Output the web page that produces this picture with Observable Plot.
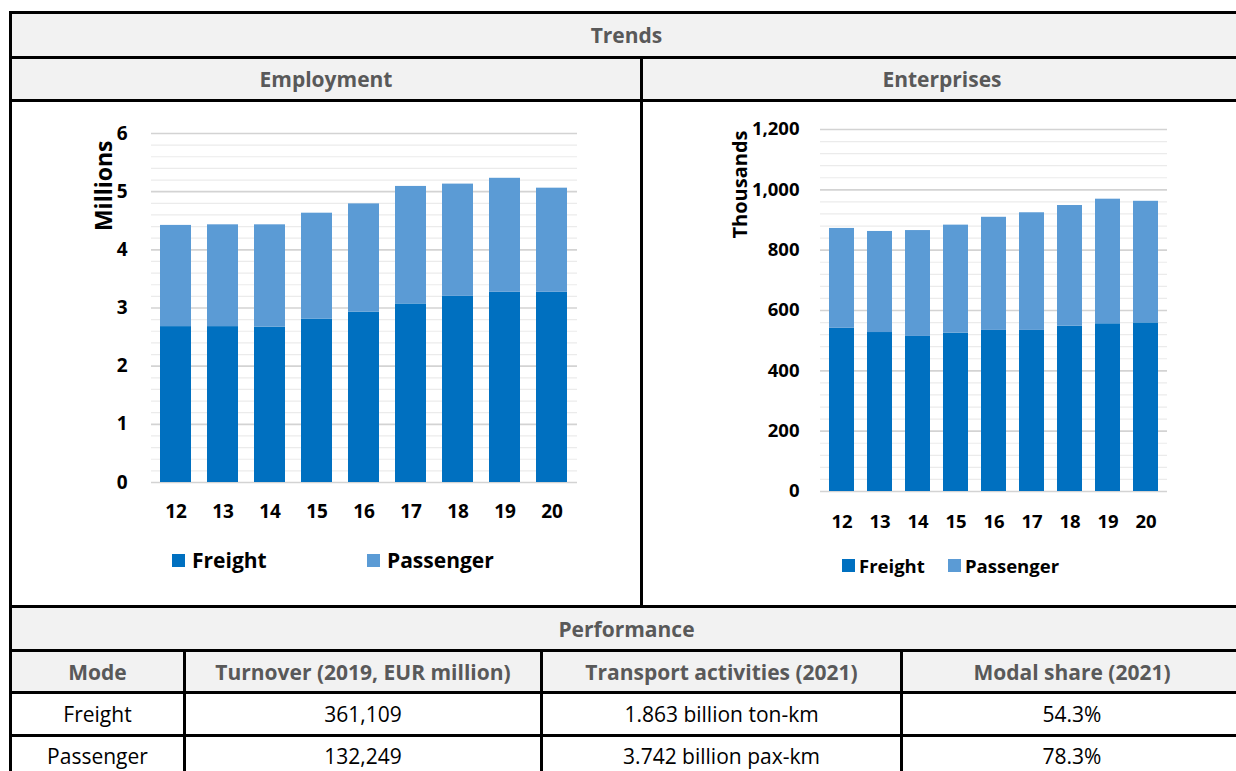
<!DOCTYPE html>
<html><head><meta charset="utf-8">
<script src="https://cdn.jsdelivr.net/npm/d3@7"></script>
<script src="https://cdn.jsdelivr.net/npm/@observablehq/plot@0.6"></script>
<style>
body{margin:0;background:#fff;font-family:"Open Sans",sans-serif;}
#page{position:relative;width:1236px;height:771px;overflow:hidden;background:#fff;}
.box{position:absolute;}
.cell{position:absolute;display:flex;align-items:center;justify-content:center;box-sizing:border-box;white-space:nowrap;}
.hdr{background:#f2f2f2;color:#595959;font-weight:700;font-size:21px;}
.dat{color:#000;font-size:21px;font-weight:400;}
.chart{position:absolute;}
.legend{position:absolute;display:flex;align-items:center;font-weight:700;color:#000;white-space:nowrap;}
.sw{display:inline-block;}
</style></head>
<body><div id="page"></div>
<script>
// ---------- data ----------
const years = ["12","13","14","15","16","17","18","19","20"];
const series = ["Freight","Passenger"];
const seriesColors = ["#0070c0","#5b9bd5"];
const employmentFreight   = [2.68,2.68,2.67,2.81,2.93,3.07,3.20,3.27,3.27];
const employmentPassenger = [1.74,1.75,1.76,1.82,1.86,2.02,1.93,1.96,1.79];
const enterprisesFreight   = [541,527,514,525,534,534,548,556,559];
const enterprisesPassenger = [331,335,351,358,375,390,400,413,403];
const employmentTicks  = [0,1,2,3,4,5,6];
const enterprisesTicks = [0,200,400,600,800,1000,1200];
const titleTrends = "Trends";
const titleEmployment = "Employment";
const titleEnterprises = "Enterprises";
const titlePerformance = "Performance";
const perfColumns = ["Mode","Turnover (2019, EUR million)","Transport activities (2021)","Modal share (2021)"];
const perfModes = ["Freight","Passenger"];
const perfTurnover = ["361,109","132,249"];
const perfActivities = ["1.863 billion ton-km","3.742 billion pax-km"];
const perfShare = ["54.3%","78.3%"];

// ---------- layout helpers ----------
const page = document.getElementById("page");
function box(x,y,w,h,bg){const d=document.createElement("div");d.className="box";Object.assign(d.style,{left:x+"px",top:y+"px",width:w+"px",height:h+"px",background:bg});page.appendChild(d);return d;}
function cell(x0,x1,y0,y1,text,cls){const d=document.createElement("div");d.className="cell "+cls;Object.assign(d.style,{left:x0+"px",top:y0+"px",width:(x1-x0)+"px",height:(y1-y0)+"px"});d.textContent=text;page.appendChild(d);return d;}

const L=9, R=1241;
// header cells
cell(12,R,14,56,titleTrends,"hdr");
cell(12,640,59,99,titleEmployment,"hdr");
cell(643,R,59,99,titleEnterprises,"hdr");
cell(12,R,608,649,titlePerformance,"hdr");
const colX=[12,183,540,900,R];
perfColumns.forEach((c,i)=>cell(colX[i]+(i?3:0),colX[i+1],652,691,c,"hdr"));
const rowY=[[694,734],[737,775]];
perfModes.forEach((m,r)=>{
  const vals=[m,perfTurnover[r],perfActivities[r],perfShare[r]];
  vals.forEach((v,i)=>cell(colX[i]+(i?3:0),colX[i+1],rowY[r][0],rowY[r][1],v,"dat"));
});
// lines
[11,56,99,605,649,691,734].forEach(y=>box(L,y,R-L,3,"#000"));
box(L,11,3,800,"#000");
box(640,56,3,552,"#000");
[183,540,900].forEach(x=>box(x,649,3,130,"#000"));

// ---------- charts ----------
function stackedChart(o){
  const data=[];
  years.forEach((y,i)=>{
    data.push({year:y,series:series[0],value:o.freight[i]});
    data.push({year:y,series:series[1],value:o.passenger[i]});
  });
  const yMax=o.ticks[o.ticks.length-1];
  const minor=d3.range(0,yMax+1e-9,o.minorStep).filter(v=>!o.ticks.some(t=>Math.abs(t-v)<1e-6));
  return Plot.plot({
    width:o.width,height:o.height,
    marginLeft:o.ml,marginRight:o.mr,marginTop:o.mt,marginBottom:o.mb,
    style:{fontFamily:"Open Sans",fontSize:o.tickSize+"px",fontWeight:"700",color:"#000",background:"transparent",overflow:"visible"},
    x:{domain:years,paddingInner:o.padIn,paddingOuter:o.padOut},
    y:{domain:[0,yMax]},
    color:{domain:series,range:seriesColors},
    marks:[
      Plot.ruleY(minor,{stroke:"#ebebeb",strokeWidth:1.2}),
      Plot.ruleY(o.ticks,{stroke:"#d3d3d3",strokeWidth:1.6}),
      Plot.barY(data,{x:"year",y:"value",fill:"series"}),
      Plot.axisY(o.ticks,{tickSize:0,tickPadding:o.padY,tickFormat:o.fmt,label:null}),
      Plot.axisX(years,{tickSize:0,tickPadding:o.padX,label:null}),
      Plot.text([o.label],{text:d=>d,frameAnchor:"top-left",rotate:-90,textAnchor:"end",dx:o.labelDx,dy:o.labelDy,fontSize:o.labelSize,fontWeight:700})
    ]
  });
}
function place(svg,x,y){svg.classList.add("chart");svg.style.position="absolute";svg.style.left=x+"px";svg.style.top=y+"px";page.appendChild(svg);}
function legend(x,y,size,sq,gap,secondX){
  series.forEach((s,i)=>{
    const d=document.createElement("div");d.className="legend";
    Object.assign(d.style,{left:(i?secondX:x)+"px",top:(y-15)+"px",height:"30px",fontSize:size+"px"});
    const sw=document.createElement("span");sw.className="sw";
    Object.assign(sw.style,{width:sq+"px",height:sq+"px",background:seriesColors[i],marginRight:gap+"px"});
    d.appendChild(sw);d.appendChild(document.createTextNode(s));page.appendChild(d);
  });
}

const emp=stackedChart({freight:employmentFreight,passenger:employmentPassenger,ticks:employmentTicks,minorStep:0.2,
  width:540,height:420,ml:91,mr:23,mt:23,mb:48,padIn:0.33,padOut:0.165,fmt:d3.format("d"),
  tickSize:19,padY:24,padX:22,label:"Millions",labelDx:-56,labelDy:7,labelSize:23});
place(emp,60,110);
legend(172,560,21,13,7,367);

const ent=stackedChart({freight:enterprisesFreight,passenger:enterprisesPassenger,ticks:enterprisesTicks,minorStep:40,
  width:520,height:440,ml:120,mr:53,mt:29,mb:49,padIn:0.35,padOut:0.175,fmt:d3.format(","),
  tickSize:18.5,padY:21,padX:23,label:"Thousands",labelDx:-88,labelDy:1,labelSize:20});
place(ent,700,100);
legend(842,565,18.5,13,4,948);
</script>
</body></html>
